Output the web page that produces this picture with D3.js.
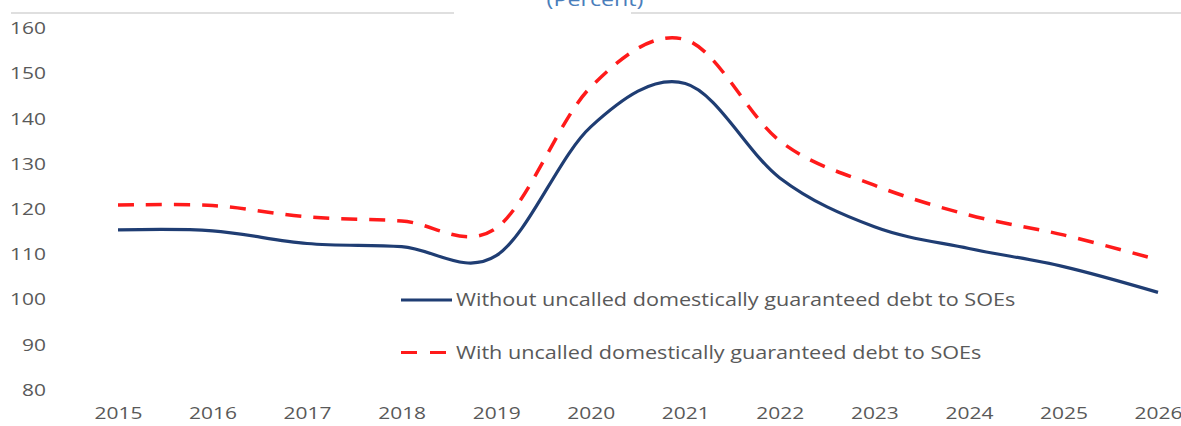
<!DOCTYPE html>
<html>
<head>
<meta charset="utf-8">
<script src="https://cdn.jsdelivr.net/npm/d3@7"></script>
<style>
  html, body { margin: 0; padding: 0; background: #fff; }
  svg { display: block; }
  text { font-family: "Open Sans", sans-serif; }
</style>
</head>
<body>
<svg id="chart" width="1181" height="426"></svg>
<script>
// ---- data ----
const years = [2015, 2016, 2017, 2018, 2019, 2020, 2021, 2022, 2023, 2024, 2025, 2026];
const withoutGuaranteed = [115.4, 115.2, 112.4, 111.7, 109.7, 138.2, 147.8, 126.9, 116.1, 111.3, 107.3, 101.6];
const withGuaranteed    = [120.9, 120.8, 118.3, 117.4, 115.8, 147.0, 157.5, 135.1, 125.3, 118.7, 114.3, 108.8];
const yTicks = [80, 90, 100, 110, 120, 130, 140, 150, 160];
const seriesNames = [
  "Without uncalled domestically guaranteed debt to SOEs",
  "With uncalled domestically guaranteed debt to SOEs"
];
const titleText = "(Percent)";

// ---- drawing ----
const svg = d3.select("#chart");
const textColor = "#595959";

function widen(stretch) {
  return sel => sel.each(function () {
    const w = this.getComputedTextLength();
    d3.select(this).attr("textLength", w * stretch).attr("lengthAdjust", "spacingAndGlyphs");
  });
}

const x = d3.scalePoint().domain(years).range([118, 1158]);
const y = d3.scaleLinear().domain([80, 160]).range([390, 28.3]);

// top rule (broken by title box)
svg.append("line").attr("x1", 11).attr("x2", 454).attr("y1", 13).attr("y2", 13)
  .attr("stroke", "#d4d4d4").attr("stroke-width", 1.5);
svg.append("line").attr("x1", 631).attr("x2", 1181).attr("y1", 13).attr("y2", 13)
  .attr("stroke", "#d4d4d4").attr("stroke-width", 1.5);

// title (clipped at top, as in the reference)
svg.append("text").attr("x", 595).attr("y", 6).attr("text-anchor", "middle")
  .attr("fill", "#4a7ebb").attr("font-size", 18).text(titleText).call(widen(1.29));

// y axis
const yAxis = svg.append("g").attr("transform", "translate(46,0)")
  .call(d3.axisLeft(y).tickValues(yTicks).tickSize(0).tickPadding(0));
yAxis.select(".domain").remove();
yAxis.selectAll("text").attr("fill", textColor).attr("font-size", 16.5)
  .attr("font-family", "Open Sans, sans-serif").call(widen(1.27));

// x axis
const xAxis = svg.append("g").attr("transform", "translate(0,407)")
  .call(d3.axisBottom(x).tickSize(0).tickPadding(0));
xAxis.select(".domain").remove();
xAxis.selectAll("text").attr("fill", textColor).attr("font-size", 16.5)
  .attr("font-family", "Open Sans, sans-serif").call(widen(1.27));

// lines
const line = d3.line()
  .x((d, i) => x(years[i]))
  .y(d => y(d))
  .curve(d3.curveCardinal.tension(0));

svg.append("path").datum(withGuaranteed).attr("d", line)
  .attr("fill", "none").attr("stroke", "#ff1a1a").attr("stroke-width", 3.5)
  .attr("stroke-dasharray", "16,12");

svg.append("path").datum(withoutGuaranteed).attr("d", line)
  .attr("fill", "none").attr("stroke", "#1f3d73").attr("stroke-width", 3.2);

// legend
const legend = svg.append("g");
const legendItems = [
  { name: seriesNames[0], color: "#1f3d73", dash: null, y: 300 },
  { name: seriesNames[1], color: "#ff1a1a", dash: "16,13", y: 352.5 }
];
legendItems.forEach(it => {
  legend.append("line").attr("x1", 401).attr("x2", 452).attr("y1", it.y).attr("y2", it.y)
    .attr("stroke", it.color).attr("stroke-width", 3.2)
    .attr("stroke-dasharray", it.dash);
  legend.append("text").attr("x", 456).attr("y", it.y).attr("dy", "0.35em")
    .attr("fill", textColor).attr("font-size", 17.5).text(it.name).call(widen(1.235));
});
</script>
</body>
</html>
